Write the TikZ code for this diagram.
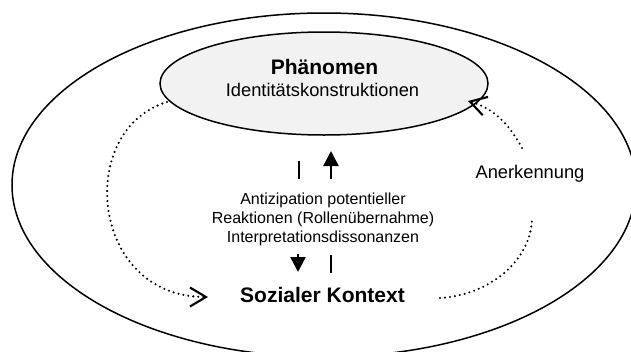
\documentclass[tikz,border=0pt]{standalone}
\usepackage{fontspec}
\setmainfont{Liberation Sans}
\usetikzlibrary{shapes.geometric,arrows.meta}
\definecolor{ovalfill}{gray}{0.95}
\begin{document}
\begin{tikzpicture}[x=1pt,y=-1pt,
  ring/.style={draw=black,line width=1.5pt,ellipse,inner sep=0pt},
  flow/.style={line width=2.3pt,line cap=round,dash pattern=on 0pt off 5pt},
  openhead/.style={-{Straight Barb[length=16pt,width=19pt,line width=2.1pt]}},
  bar/.style={line width=2.4pt},
  solidhead/.style={-{Triangle[length=15pt,width=15pt]}},
  title/.style={font=\bfseries\fontsize{21}{25}\selectfont,inner sep=0pt,anchor=base},
  plain/.style={font=\fontsize{18.3}{22}\selectfont,inner sep=0pt,anchor=base},
  small/.style={font=\fontsize{16}{19}\selectfont,inner sep=0pt,align=center}
]
\useasboundingbox (0,0) rectangle (631,351);

% the two ovals
\node[ring,minimum width=624pt,minimum height=344pt] (outer) at (324,185) {};
\node[ring,fill=ovalfill,minimum width=328pt,minimum height=103pt] (inner) at (324,83.5) {};

% texts
\node[title] (phaen) at (324.5,74) {Phänomen};
\node[plain] (ident) at (322.5,96.7) {Identitätskonstruktionen};
\node[small] (mid) at (323,219.8) {Antizipation potentieller\\Reaktionen (Rollenübernahme)\\Interpretationsdissonanzen};
\node[title] (kontext) at (322.5,302.7) {Sozialer Kontext};
\node[plain] (anerk) at (530,178) {Anerkennung};

% end points of the connectors
\coordinate (lstart) at (167,102);
\coordinate (ltip) at (208,297);
\coordinate (rlstart) at (440,298);
\coordinate (rlend) at (532,217);
\coordinate (rustart) at (522,148);
\coordinate (rutip) at (468,101);
\coordinate (barTopA) at (299,161);
\coordinate (barTopB) at (299,179);
\coordinate (upFrom) at (331,179);
\coordinate (upTo) at (331,151);
\coordinate (downFrom) at (298,254);
\coordinate (downTo) at (298,272);
\coordinate (barBotA) at (331,255);
\coordinate (barBotB) at (331,273);

% dotted cycle
\draw[flow,openhead] (lstart) .. controls (75,130) and (90,297) .. (ltip);
\draw[flow] (rlstart) .. controls (490,295) and (532,260) .. (rlend);
\draw[flow,openhead] (rustart) .. controls (508,122) and (492,108) .. (rutip);

% interrupted vertical arrows
\draw[bar] (barTopA) -- (barTopB);
\draw[bar,solidhead] (upFrom) -- (upTo);
\draw[bar,solidhead] (downFrom) -- (downTo);
\draw[bar] (barBotA) -- (barBotB);
\end{tikzpicture}
\end{document}
